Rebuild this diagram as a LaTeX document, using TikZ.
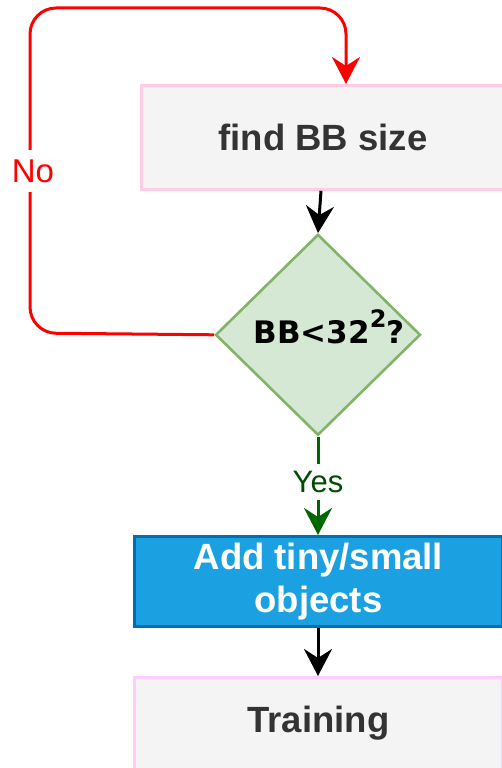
\documentclass[tikz,border=0pt]{standalone}
\usepackage{fontspec}
\setmainfont{Liberation Sans}
\newfontfamily\dejavu{DejaVu Sans}
\usetikzlibrary{shapes.geometric,arrows.meta}
\definecolor{boxfill}{HTML}{F4F4F4}
\definecolor{pinkA}{HTML}{FFCCE6}
\definecolor{pinkB}{HTML}{FFCCFF}
\definecolor{txtgray}{HTML}{333333}
\definecolor{dfill}{HTML}{D5E8D4}
\definecolor{dline}{HTML}{82B366}
\definecolor{bfill}{HTML}{1BA1E2}
\definecolor{bline}{HTML}{006EAF}
\definecolor{noRed}{HTML}{FF0000}
\definecolor{yesLine}{HTML}{006600}
\definecolor{yesText}{HTML}{004C00}
\tikzset{
  boxtext/.style={font=\bfseries\fontsize{36.5}{43}\selectfont, align=center},
  arr/.style={line width=3pt, -{Stealth[length=27pt,width=28pt,inset=9pt]}},
}
\begin{document}
\begin{tikzpicture}[x=1pt,y=-1pt]
\useasboundingbox (0,0) rectangle (501,768);
% boxes
\node[draw=pinkA, fill=boxfill, line width=2.8pt, minimum width=363pt, minimum height=104pt,
      anchor=north west, text=txtgray, boxtext] (b1) at (140,84) {find BB size};
\node[draw=dline, fill=dfill, line width=2.6pt, diamond, minimum width=205pt, minimum height=201pt,
      inner sep=0pt, anchor=north] (d) at (318,233) {};
\node[anchor=base, font=\dejavu\bfseries\fontsize{31}{31}\selectfont, inner sep=0pt] (dl) at (329,343)
      {BB<32\raisebox{16pt}{\fontsize{24}{24}\selectfont 2}?};
\node[draw=bline, fill=bfill, line width=2.8pt, minimum width=368pt, minimum height=90pt,
      anchor=north west, text=white, boxtext] (b2) at (133,535) {Add tiny/small\\objects};
\node[draw=pinkB, fill=boxfill, line width=2.8pt, minimum width=368pt, minimum height=92pt,
      anchor=north west, text=txtgray, boxtext] (b3) at (133,676) {Training};
% connectors
\draw[arr] (b1.south -| 321,0) -- (d.north);
\coordinate (c1) at (30,333);
\coordinate (c2) at (30,8);
\coordinate (c3) at (346,8);
\coordinate (b1in) at (346,84);
\draw[arr, draw=noRed, rounded corners=26pt] (d.west) -- (c1) -- (c2) -- (c3) -- (b1in);
\node[fill=white, text=noRed, font=\fontsize{33}{33}\selectfont, inner xsep=1pt, inner ysep=9pt] (no) at (33,171) {No};
\draw[arr, draw=yesLine] (d.south) -- (b2.north -| d.south);
\node[fill=white, text=yesText, font=\fontsize{31}{31}\selectfont, inner xsep=1pt, inner ysep=7pt] (yes) at (318,482) {Yes};
\draw[arr] (b2.south -| d.south) -- (b3.north -| d.south);
\end{tikzpicture}
\end{document}
